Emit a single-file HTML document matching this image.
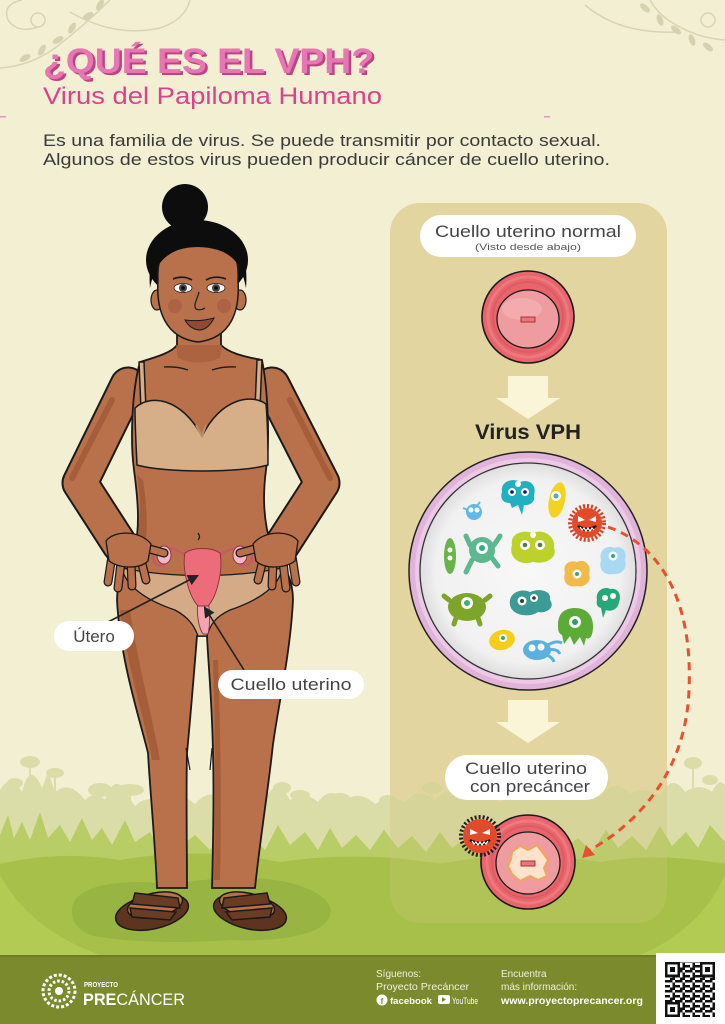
<!DOCTYPE html>
<html><head><meta charset="utf-8">
<style>html,body{margin:0;padding:0;background:#f3efd3;}svg{display:block;}</style>
</head><body>
<svg width="725" height="1024" viewBox="0 0 725 1024" xmlns="http://www.w3.org/2000/svg" font-family="'Liberation Sans', sans-serif">
<defs>
 <marker id="ah" viewBox="0 0 10 10" refX="8" refY="5" markerWidth="7" markerHeight="7" orient="auto"><path d="M0,0 L10,5 L0,10 Z" fill="#222"/></marker>
 <pattern id="qr" width="10" height="10" patternUnits="userSpaceOnUse">
  <rect x="0" y="0" width="2.5" height="2.5" fill="#111"/><rect x="5" y="0" width="5" height="2.5" fill="#111"/>
  <rect x="2.5" y="2.5" width="2.5" height="5" fill="#111"/><rect x="7.5" y="5" width="2.5" height="2.5" fill="#111"/>
  <rect x="0" y="7.5" width="5" height="2.5" fill="#111"/><rect x="5" y="5" width="2.5" height="2.5" fill="#111"/>
 </pattern>
 <radialGradient id="dish" cx="50%" cy="50%" r="50%"><stop offset="0" stop-color="#f8f8f8"/><stop offset="0.85" stop-color="#f1f1f1"/><stop offset="1" stop-color="#dedede"/></radialGradient>
</defs>
<rect width="725" height="1024" fill="#f3efd3"/>

<!-- vines -->
<g fill="none" stroke="#d8d4b4" stroke-width="1.5">
 <path d="M0,68 Q30,66 55,48 Q85,25 110,0"/>
 <circle cx="38" cy="20" r="7"/>
 <path d="M38,27 Q18,34 8,20 Q2,4 22,0"/>
 <path d="M70,12 Q115,38 160,28 Q185,20 190,0"/>
 <path d="M725,40 Q695,38 668,20 Q655,10 650,0"/>
 <circle cx="708" cy="20" r="7"/>
 <path d="M585,5 Q620,35 680,32"/>
</g>
<g fill="#d5d2b0">
 <ellipse cx="25" cy="58" rx="6" ry="3" transform="rotate(-30 25 58)"/>
 <ellipse cx="42" cy="50" rx="6" ry="3" transform="rotate(-60 42 50)"/>
 <ellipse cx="58" cy="40" rx="6" ry="3" transform="rotate(-30 58 40)"/>
 <ellipse cx="72" cy="28" rx="6" ry="3" transform="rotate(-60 72 28)"/>
 <ellipse cx="88" cy="16" rx="6" ry="3" transform="rotate(-30 88 16)"/>
 <ellipse cx="100" cy="5" rx="6" ry="3" transform="rotate(-60 100 5)"/>
 <ellipse cx="645" cy="8" rx="6" ry="3" transform="rotate(40 645 8)"/>
 <ellipse cx="660" cy="20" rx="6" ry="3" transform="rotate(70 660 20)"/>
 <ellipse cx="676" cy="30" rx="6" ry="3" transform="rotate(40 676 30)"/>
 <ellipse cx="692" cy="40" rx="6" ry="3" transform="rotate(70 692 40)"/>
 <ellipse cx="708" cy="47" rx="6" ry="3" transform="rotate(40 708 47)"/>
</g>
<rect x="0" y="116" width="6" height="1.5" fill="#e39ac0"/>
<rect x="544" y="116" width="6" height="1.5" fill="#e39ac0"/>

<!-- title -->
<text x="45.5" y="75" font-size="35" font-weight="bold" fill="#bf4383" textLength="331" lengthAdjust="spacingAndGlyphs">¿QUÉ ES EL VPH?</text>
<text x="43" y="73" font-size="35" font-weight="bold" fill="#e777b2" textLength="331" lengthAdjust="spacingAndGlyphs">¿QUÉ ES EL VPH?</text>
<text x="43" y="104" font-size="24" fill="#d9428f" textLength="339" lengthAdjust="spacingAndGlyphs">Virus del Papiloma Humano</text>
<text x="43" y="146" font-size="17" fill="#3a3a3a" textLength="558" lengthAdjust="spacingAndGlyphs">Es una familia de virus. Se puede transmitir por contacto sexual.</text>
<text x="43" y="165" font-size="17" fill="#3a3a3a" textLength="567" lengthAdjust="spacingAndGlyphs">Algunos de estos virus pueden producir cáncer de cuello uterino.</text>

<!-- right panel -->
<rect x="390" y="203" width="277" height="720" rx="30" fill="#e6d9a6"/>

<!-- foliage background -->
<g>
 <g fill="#d3d89a" opacity="0.75">
  <path d="M0,955 L0,790 Q10,772 22,792 Q30,760 42,788 L48,772 L55,792 Q70,780 85,800 Q95,790 105,800 Q115,770 128,796 L135,806 Q150,792 165,806 Q180,790 195,804 Q210,786 225,802 Q245,792 262,806 Q275,772 290,800 Q305,790 318,802 Q330,785 345,800 Q360,790 375,804 Q390,794 405,802 Q420,786 435,800 Q450,783 470,796 Q485,790 500,803 Q515,786 530,800 Q545,790 560,800 Q580,786 600,796 Q615,776 630,794 Q645,786 660,796 Q672,772 685,792 Q700,782 712,792 Q720,776 725,786 L725,955 Z"/>
  <ellipse cx="30" cy="762" rx="10" ry="6"/><rect x="29" y="762" width="2" height="30"/>
  <ellipse cx="55" cy="773" rx="9" ry="5"/><rect x="54" y="773" width="2" height="25"/>
  <ellipse cx="15" cy="783" rx="8" ry="5"/>
  <ellipse cx="100" cy="790" rx="12" ry="7"/>
  <ellipse cx="130" cy="790" rx="14" ry="6"/><rect x="129" y="790" width="2" height="14"/>
  <ellipse cx="282" cy="788" rx="9" ry="6"/><rect x="281" y="788" width="2" height="20"/>
  <ellipse cx="300" cy="795" rx="10" ry="5"/>
  <ellipse cx="340" cy="798" rx="10" ry="5"/>
  <ellipse cx="388" cy="800" rx="9" ry="5"/>
  <ellipse cx="432" cy="788" rx="10" ry="6"/><rect x="431" y="788" width="2" height="20"/>
  <ellipse cx="470" cy="795" rx="9" ry="5"/>
  <ellipse cx="540" cy="798" rx="10" ry="5"/>
  <ellipse cx="600" cy="783" rx="10" ry="5"/>
  <ellipse cx="693" cy="763" rx="9" ry="6"/><rect x="692" y="763" width="2" height="30"/>
  <ellipse cx="710" cy="780" rx="8" ry="5"/>
 </g>
 <path fill="#b5cb5f" opacity="0.92" d="M0,955 L0,835 L8,815 L14,838 L22,822 L30,840 L40,812 L48,838 L60,825 L70,842 L82,818 L92,840 L102,828 L112,845 L125,820 L135,842 L150,832 L160,848 L172,825 L182,845 L195,835 L210,850 L225,830 L238,848 L252,835 L265,850 L278,825 L290,845 L305,832 L318,850 L330,828 L342,848 L356,835 L370,850 L384,830 L398,848 L412,836 L426,852 L440,832 L452,848 L466,838 L480,852 L494,834 L508,848 L522,838 L536,852 L550,832 L564,848 L578,838 L592,852 L606,830 L618,848 L632,836 L646,850 L660,826 L672,846 L686,832 L698,848 L710,825 L725,842 L725,955 Z"/>
 <rect x="0" y="862" width="725" height="93" fill="#b1cb53"/>
 <path fill="#a7c04a" d="M0,864 Q60,850 120,860 Q200,846 280,862 Q360,850 440,864 Q520,848 600,862 Q660,852 725,864 L725,875 Q700,930 640,955 L100,955 Q30,930 0,875 Z"/>
</g>
<!-- panel tint over foliage -->
<rect x="390" y="203" width="277" height="720" rx="30" fill="#d8c88a" opacity="0.22"/>

<!-- ground shadow -->
<path d="M72,912 C70,885 120,878 170,884 C200,880 240,875 275,880 C310,885 335,900 330,915 C325,935 280,942 230,940 C180,944 120,942 90,935 C78,930 72,922 72,912 Z" fill="#98b443"/>

<!-- ===== WOMAN ===== -->
<circle cx="185" cy="207" r="23" fill="#0d0d0d"/>
<ellipse cx="197" cy="260" rx="51" ry="40" fill="#0d0d0d"/>
<g fill="none" stroke-linejoin="round" stroke-linecap="round">
 <path d="M128,385 L80,483 L120,545" stroke="#1a1a1a" stroke-width="37"/>
 <path d="M128,385 L80,483 L120,545" stroke="#b8714a" stroke-width="33"/>
 <path d="M272,385 L322,483 L282,545" stroke="#1a1a1a" stroke-width="37"/>
 <path d="M272,385 L322,483 L282,545" stroke="#b8714a" stroke-width="33"/>
 <path d="M112,400 L72,478" stroke="#a65e3a" stroke-width="6"/>
 <path d="M290,400 L330,478" stroke="#a65e3a" stroke-width="6"/>
</g>
<path fill="#b8714a" stroke="#1a1a1a" stroke-width="1.8" d="M140,362 C160,356 172,352 177,345 L177,322 L221,322 L221,345 C228,352 240,356 262,360 C268,390 270,440 266,470 C262,500 264,525 272,548 C285,565 293,580 293,600 C290,660 275,720 272,753 C268,790 260,840 255,888 L212,888 C213,850 214,790 213,753 C212,700 208,660 207,636 L197,636 C195,660 192,700 187,753 C186,790 187,850 187,888 L157,888 C155,840 150,790 148,753 C140,720 120,660 117,600 C117,580 125,565 135,548 C140,525 138,500 134,470 C130,440 132,390 140,362 Z"/>
<g fill="#a65e3a">
 <path d="M137,475 C142,500 140,525 136,545 L146,540 C148,520 146,500 143,480 Z"/>
 <path d="M120,610 C128,670 145,720 152,760 L160,760 C152,715 138,665 130,610 Z"/>
 <path d="M213,660 C215,720 216,790 214,880 L220,880 C222,800 220,720 218,660 Z"/>
 <path d="M176,345 L222,345 L220,358 C205,364 192,364 178,358 Z" opacity="0.7"/>
</g>
<g stroke="#1a1a1a" stroke-width="1.2" fill="none">
 <path d="M186,748 L190,770"/><path d="M212,748 L210,770"/>
 <path d="M198,533 q3,4 0,7"/>
</g>
<g stroke="#1a1a1a" stroke-width="1.5" stroke-linejoin="round">
 <path d="M139,362 L144,362 L146,410 L141,410 Z" fill="#d6ae88"/>
 <path d="M257,360 L262,360 L260,408 L255,408 Z" fill="#d6ae88"/>
 <path d="M135,408 C150,394 180,397 202,436 C222,397 252,394 266,404 C268,425 268,445 268,465 C240,473 165,473 137,465 C136,445 135,425 135,408 Z" fill="#d6ae88"/>
</g>
<path d="M196,425 L202,436 L206,425" stroke="#b98e6a" stroke-width="2" fill="none"/>
<g stroke="#1a1a1a" stroke-width="1.3" fill="none">
 <path d="M164,367 Q176,366 188,370"/><path d="M212,370 Q224,366 236,367"/>
</g>
<path fill="#d4ab86" stroke="#1a1a1a" stroke-width="1.3" d="M122,568 C170,578 235,578 282,568 C280,585 260,600 230,610 C215,617 210,625 207,636 L198,636 C194,625 188,617 175,610 C145,600 125,585 122,568 Z"/>
<g stroke="#8a2f3c" stroke-width="0.9">
 <path d="M186,556 C176,548 165,545 155,552 C150,560 155,567 165,565" fill="none" stroke="#c9566a" stroke-width="2"/>
 <path d="M219,556 C229,548 240,545 250,552 C255,560 250,567 240,565" fill="none" stroke="#c9566a" stroke-width="2"/>
 <ellipse cx="164" cy="555" rx="7" ry="9" fill="#f3b7c5"/>
 <ellipse cx="240" cy="555" rx="7" ry="9" fill="#f3b7c5"/>
 <path d="M198,600 C196,615 199,628 203,634 L208,634 C210,625 210,612 208,600 Z" fill="#f2a4b2"/>
 <path d="M185,553 C182,568 188,595 198,606 L208,606 C218,595 223,568 220,553 C212,547 193,547 185,553 Z" fill="#ec6c7a"/>
</g>
<g stroke-linecap="round" fill="none">
 <g stroke="#1a1a1a" stroke-width="9">
  <path d="M112,556 L108,582"/><path d="M121,562 L118,588"/><path d="M131,563 L132,586"/><path d="M141,560 L146,580"/><path d="M146,548 L164,553"/>
  <path d="M292,556 L296,582"/><path d="M283,562 L286,588"/><path d="M273,563 L272,586"/><path d="M263,560 L258,580"/><path d="M258,548 L240,553"/>
 </g>
 <g stroke="#b8714a" stroke-width="6.5">
  <path d="M112,556 L108,582"/><path d="M121,562 L118,588"/><path d="M131,563 L132,586"/><path d="M141,560 L146,580"/><path d="M146,548 L164,553"/>
  <path d="M292,556 L296,582"/><path d="M283,562 L286,588"/><path d="M273,563 L272,586"/><path d="M263,560 L258,580"/><path d="M258,548 L240,553"/>
 </g>
</g>
<path d="M106,541 C114,530 140,530 151,544 L148,561 C140,569 120,569 109,561 Z" fill="#b8714a" stroke="#1a1a1a" stroke-width="1.3"/>
<path d="M298,541 C290,530 264,530 253,544 L256,561 C264,569 284,569 295,561 Z" fill="#b8714a" stroke="#1a1a1a" stroke-width="1.3"/>
<line x1="108" y1="622" x2="197" y2="576" stroke="#222" stroke-width="1.6" marker-end="url(#ah)"/>
<line x1="244" y1="670" x2="205" y2="608" stroke="#222" stroke-width="1.6" marker-end="url(#ah)"/>
<rect x="54" y="621" width="80" height="30" rx="15" fill="#fff"/>
<text x="94" y="642" font-size="17" fill="#444" text-anchor="middle">Útero</text>
<rect x="218" y="670" width="146" height="29" rx="14.5" fill="#fff"/>
<text x="291" y="690" font-size="17" fill="#444" text-anchor="middle" textLength="121" lengthAdjust="spacingAndGlyphs">Cuello uterino</text>
<ellipse cx="157" cy="300" rx="6" ry="10" fill="#b8714a" stroke="#1a1a1a" stroke-width="1.2"/>
<ellipse cx="240" cy="300" rx="6" ry="10" fill="#b8714a" stroke="#1a1a1a" stroke-width="1.2"/>
<path d="M158,280 C156,245 175,238 198,238 C222,238 240,245 238,280 C240,310 232,338 198,342 C165,338 156,310 158,280 Z" fill="#b8714a" stroke="#1a1a1a" stroke-width="1.5"/>
<path d="M150,288 C146,242 170,222 198,222 C226,222 250,242 246,288 C242,268 236,256 218,250 C205,246 190,246 178,250 C162,256 154,268 150,288 Z" fill="#0d0d0d"/>
<circle cx="175" cy="306" r="7" fill="#a0503f" opacity="0.45"/>
<circle cx="224" cy="306" r="7" fill="#a0503f" opacity="0.45"/>
<g stroke="#1a1a1a" stroke-width="1.6" fill="none">
 <path d="M173,279 Q183,275 192,280"/><path d="M206,280 Q215,275 226,279"/>
</g>
<ellipse cx="183" cy="288" rx="9" ry="4.5" fill="#f4f4f4" stroke="#222" stroke-width="0.8"/>
<ellipse cx="216" cy="288" rx="9" ry="4.5" fill="#f4f4f4" stroke="#222" stroke-width="0.8"/>
<circle cx="183" cy="288" r="4" fill="#4a4a4a"/><circle cx="216" cy="288" r="4" fill="#4a4a4a"/>
<circle cx="183" cy="288" r="2" fill="#111"/><circle cx="216" cy="288" r="2" fill="#111"/>
<path d="M199,292 C197,300 193,305 196,309 Q200,311 205,308" stroke="#1a1a1a" stroke-width="1.2" fill="none"/>
<path d="M185,320 Q200,322 214,318 Q208,330 199,330 Q190,329 185,320 Z" fill="#8f4a36" stroke="#1a1a1a" stroke-width="1"/>
<g stroke="#1a1a1a" stroke-width="1.5">
 <ellipse cx="152" cy="912" rx="37" ry="17" transform="rotate(-12 152 912)" fill="#5e3420"/>
 <ellipse cx="155" cy="905" rx="28" ry="12" transform="rotate(-12 155 905)" fill="#b8714a"/>
 <path d="M135,893 L178,898 L180,908 L132,904 Z" fill="#6b3c24"/>
 <path d="M130,908 L176,912 L170,920 L132,917 Z" fill="#6b3c24"/>
 <ellipse cx="250" cy="912" rx="37" ry="17" transform="rotate(12 250 912)" fill="#5e3420"/>
 <ellipse cx="247" cy="905" rx="28" ry="12" transform="rotate(12 247 905)" fill="#b8714a"/>
 <path d="M267,893 L224,898 L222,908 L270,904 Z" fill="#6b3c24"/>
 <path d="M272,908 L226,912 L232,920 L270,917 Z" fill="#6b3c24"/>
</g>

<!-- ===== PANEL CONTENT ===== -->
<rect x="420" y="215" width="216" height="42" rx="21" fill="#fff"/>
<text x="528" y="237" font-size="17" fill="#444" text-anchor="middle" textLength="186" lengthAdjust="spacingAndGlyphs">Cuello uterino normal</text>
<text x="528" y="250" font-size="9.5" fill="#555" text-anchor="middle" textLength="106" lengthAdjust="spacingAndGlyphs">(Visto desde abajo)</text>

<circle cx="528" cy="317" r="46" fill="#e8656c" stroke="#1a1a1a" stroke-width="1.6"/>
<circle cx="528" cy="317" r="40" fill="none" stroke="#ef8086" stroke-width="3" opacity="0.7"/>
<circle cx="528" cy="317" r="35" fill="none" stroke="#d9555d" stroke-width="2" opacity="0.6"/>
<ellipse cx="528" cy="319" rx="31" ry="29" fill="#ef9ca0" stroke="#1a1a1a" stroke-width="1.3"/>
<ellipse cx="522" cy="309" rx="20" ry="11" fill="#f5b6b8" opacity="0.6"/>
<rect x="521" y="317" width="14" height="5" fill="#e9767d" stroke="#a8323c" stroke-width="1"/>

<polygon points="508,376 548,376 548,398 560,398 528,419 496,398 508,398" fill="#fbf5d8"/>
<text x="528" y="439" font-size="21" font-weight="bold" fill="#222" text-anchor="middle" textLength="106" lengthAdjust="spacingAndGlyphs">Virus VPH</text>

<circle cx="528" cy="571" r="119" fill="#e0b3d9" stroke="#222" stroke-width="1.5"/>
<circle cx="528" cy="571" r="113" fill="#ecc9e6"/>
<circle cx="528" cy="571" r="108" fill="url(#dish)" stroke="#333" stroke-width="1.3"/>

<g>
 <path d="M502,492 C500,480 515,478 520,482 C530,478 537,486 534,495 C536,503 528,506 524,505 L522,515 L518,505 L512,508 L510,503 C502,503 500,498 502,492 Z" fill="#1fb1bf"/>
 <circle cx="512" cy="492" r="4" fill="#fff"/><circle cx="525" cy="492" r="4" fill="#fff"/><circle cx="518" cy="484" r="3" fill="#fff"/>
 <circle cx="512" cy="492" r="1.8" fill="#117"/><circle cx="525" cy="492" r="1.8" fill="#117"/>
 <ellipse cx="557" cy="500" rx="8" ry="18" transform="rotate(12 557 500)" fill="#f5d21e"/>
 <circle cx="556" cy="496" r="5" fill="#fff"/><circle cx="556" cy="496" r="2.5" fill="#5aa"/>
 <circle cx="474" cy="512" r="8" fill="#5fb8e8"/><path d="M463,508 L468,510 M480,502 L477,506" stroke="#5fb8e8" stroke-width="2"/>
 <circle cx="471" cy="510" r="2.5" fill="#fff"/><circle cx="477" cy="510" r="2.5" fill="#fff"/>
 <ellipse cx="450" cy="556" rx="6" ry="18" fill="#68b34a"/>
 <circle cx="450" cy="550" r="2.5" fill="#fff"/><circle cx="450" cy="558" r="2.5" fill="#fff"/>
 <path d="M470,545 L466,536 M494,545 L500,536 M472,560 L466,572 M492,558 L498,566" stroke="#5bb88f" stroke-width="5" stroke-linecap="round"/>
 <circle cx="482" cy="550" r="13" fill="#5bb88f"/>
 <circle cx="482" cy="548" r="6" fill="#fff"/><circle cx="482" cy="548" r="3" fill="#3a8"/>
 <path d="M512,545 C510,532 525,530 533,533 C545,528 556,538 554,548 C558,558 545,565 533,562 C520,566 508,558 512,545 Z" fill="#bcd22b"/>
 <circle cx="525" cy="545" r="5" fill="#fff"/><circle cx="540" cy="545" r="5" fill="#fff"/><circle cx="533" cy="535" r="3" fill="#fff"/>
 <circle cx="525" cy="545" r="2.3" fill="#575"/><circle cx="540" cy="545" r="2.3" fill="#575"/>
 <path d="M601,560 C598,548 610,545 614,548 C622,545 628,552 625,560 C628,570 620,575 613,574 C605,576 598,570 601,560 Z" fill="#a9d8f2"/>
 <circle cx="613" cy="556" r="4.5" fill="#fff"/><circle cx="613" cy="556" r="2" fill="#3a7"/>
 <path d="M565,573 C562,562 572,560 577,562 C585,558 592,566 589,574 C592,582 584,588 577,586 C568,588 562,582 565,573 Z" fill="#f2bb48"/>
 <circle cx="577" cy="574" r="4.5" fill="#fff"/><circle cx="577" cy="574" r="2" fill="#3a7"/>
 <path d="M597,600 C595,590 605,586 610,589 C618,587 622,595 619,602 C618,610 610,612 606,610 L603,618 L601,608 C597,607 596,604 597,600 Z" fill="#25a97a"/>
 <circle cx="605" cy="598" r="3" fill="#fff"/><circle cx="613" cy="596" r="3" fill="#fff"/>
 <path d="M449,600 L444,596 M485,600 L490,596 M456,618 L454,624 M478,618 L480,624" stroke="#7ca52a" stroke-width="5" stroke-linecap="round"/>
 <ellipse cx="467" cy="607" rx="19" ry="14" fill="#7ca52a"/>
 <circle cx="467" cy="603" r="6" fill="#fff"/><circle cx="467" cy="603" r="3" fill="#4a7"/>
 <path d="M510,605 C508,592 522,588 530,592 C538,588 552,590 550,600 C556,608 545,614 538,612 C530,618 512,616 510,605 Z" fill="#3c9b97"/>
 <circle cx="522" cy="601" r="4.5" fill="#fff"/><circle cx="534" cy="598" r="4" fill="#fff"/>
 <circle cx="522" cy="601" r="2" fill="#244"/><circle cx="534" cy="598" r="1.8" fill="#244"/>
 <path d="M558,625 C558,612 566,608 575,608 C585,608 593,614 593,626 C593,636 590,640 586,638 L584,646 L580,637 L574,645 L570,636 L564,644 L562,635 C558,633 558,630 558,625 Z" fill="#5aac36"/>
 <circle cx="575" cy="622" r="6" fill="#fff"/><circle cx="575" cy="622" r="3" fill="#396"/>
 <ellipse cx="502" cy="640" rx="13" ry="10" transform="rotate(-15 502 640)" fill="#f6cd18"/>
 <circle cx="503" cy="638" r="4" fill="#fff"/><circle cx="503" cy="638" r="2" fill="#3a7"/>
 <path d="M548,645 Q556,640 562,643 M548,650 Q557,648 560,654 M547,655 Q553,658 554,662" stroke="#5ab1dd" stroke-width="3" fill="none"/>
 <ellipse cx="537" cy="650" rx="14" ry="10" fill="#5ab1dd"/>
 <circle cx="532" cy="648" r="3.5" fill="#fff"/><circle cx="541" cy="647" r="3.5" fill="#fff"/>
 <circle cx="587" cy="523" r="17" fill="none" stroke="#d8401f" stroke-width="4" stroke-dasharray="2 2"/>
 <circle cx="587" cy="523" r="15" fill="#e34a2a"/>
 <path d="M578,516 L585,520 L578,522 Z M596,516 L589,520 L596,522 Z" fill="#fff"/>
 <path d="M578,526 Q587,534 596,526 Q587,531 578,526 Z" fill="#111" stroke="#111" stroke-width="2"/>
 <path d="M580,527 L582,530 L584,528 L586,531 L588,528 L590,531 L592,528 L594,530" stroke="#fff" stroke-width="1.2" fill="none"/>
</g>

<polygon points="508,700 548,700 548,722 560,722 528,743 496,722 508,722" fill="#fbf5d8"/>
<rect x="445" y="755" width="163" height="45" rx="22.5" fill="#fff"/>
<text x="526" y="774" font-size="17" fill="#444" text-anchor="middle" textLength="122" lengthAdjust="spacingAndGlyphs">Cuello uterino</text>
<text x="530" y="792" font-size="17" fill="#444" text-anchor="middle" textLength="120" lengthAdjust="spacingAndGlyphs">con precáncer</text>

<circle cx="528" cy="862" r="47" fill="#e8656c" stroke="#1a1a1a" stroke-width="1.6"/>
<circle cx="528" cy="862" r="41" fill="none" stroke="#ef8086" stroke-width="3" opacity="0.7"/>
<circle cx="528" cy="862" r="36" fill="none" stroke="#d9555d" stroke-width="2" opacity="0.6"/>
<ellipse cx="528" cy="863" rx="32" ry="31" fill="#ef9ca0" stroke="#1a1a1a" stroke-width="1.3"/>
<path d="M512,852 L520,846 L528,850 L537,845 L543,853 L548,860 L544,868 L547,876 L538,880 L530,876 L520,881 L512,874 L508,866 L511,859 Z" fill="#fde3cc" stroke="#f0a45c" stroke-width="2"/>
<rect x="521" y="861" width="14" height="5" fill="#e9767d" stroke="#a8323c" stroke-width="1"/>
<circle cx="480" cy="836" r="19" fill="none" stroke="#222" stroke-width="4" stroke-dasharray="2 2"/>
<circle cx="480" cy="836" r="17" fill="#e34a2a"/>
<path d="M470,829 L478,833 L470,835 Z M490,829 L482,833 L490,835 Z" fill="#fff"/>
<path d="M470,840 Q480,849 490,840 Q480,845 470,840 Z" fill="#111" stroke="#111" stroke-width="2"/>
<path d="M472,841 L474,844 L476,842 L478,845 L480,842 L482,845 L484,842 L486,844 L488,841" stroke="#fff" stroke-width="1.2" fill="none"/>

<path d="M608,527 C660,545 693,600 689,690 C686,770 640,822 590,850" fill="none" stroke="#e8502f" stroke-width="3" stroke-dasharray="8 6"/>
<polygon points="582,858 595,855 586,845" fill="#e8502f"/>

<!-- ===== FOOTER ===== -->
<rect x="0" y="955" width="725" height="69" fill="#7b8a2c"/>
<rect x="0" y="955" width="725" height="2" fill="#6e7d25"/>
<g fill="none" stroke="#fff">
 <circle cx="59" cy="991" r="16" stroke-width="3" stroke-dasharray="3 2"/>
 <circle cx="59" cy="991" r="10" stroke-width="3" stroke-dasharray="2.5 2"/>
</g>
<circle cx="59" cy="991" r="4" fill="#fff"/>
<text x="84" y="987" font-size="7.5" font-weight="bold" fill="#fff" textLength="34" lengthAdjust="spacingAndGlyphs">PROYECTO</text>
<text x="83" y="1005" font-size="17" fill="#fff" textLength="102" lengthAdjust="spacingAndGlyphs"><tspan font-weight="bold">PRE</tspan>CÁNCER</text>
<text x="376" y="977" font-size="10" fill="#f0f0dc">Síguenos:</text>
<text x="376" y="990" font-size="10" fill="#f0f0dc" textLength="93" lengthAdjust="spacingAndGlyphs">Proyecto Precáncer</text>
<circle cx="382" cy="1000" r="5.5" fill="#fff"/>
<text x="382" y="1004" font-size="8" font-weight="bold" fill="#7b8a2c" text-anchor="middle">f</text>
<text x="390" y="1004" font-size="9.5" font-weight="bold" fill="#fff" textLength="42" lengthAdjust="spacingAndGlyphs">facebook</text>
<rect x="438" y="995" width="12" height="9" rx="2" fill="#fff"/>
<polygon points="442,997 442,1002 446,999.5" fill="#7b8a2c"/>
<text x="452" y="1004" font-size="9" fill="#fff" textLength="26" lengthAdjust="spacingAndGlyphs">YouTube</text>
<text x="501" y="977" font-size="10" fill="#f0f0dc">Encuentra</text>
<text x="501" y="990" font-size="10" fill="#f0f0dc">más información:</text>
<text x="501" y="1004" font-size="10" font-weight="bold" fill="#fff" textLength="142" lengthAdjust="spacingAndGlyphs">www.proyectoprecancer.org</text>
<rect x="656" y="953" width="69" height="71" fill="#fff"/>
<rect x="665" y="962" width="50" height="55" fill="url(#qr)"/>
<g>
 <rect x="665" y="962" width="15" height="15" fill="#111"/><rect x="667.5" y="964.5" width="10" height="10" fill="#fff"/><rect x="670" y="967" width="5" height="5" fill="#111"/>
 <rect x="700" y="962" width="15" height="15" fill="#111"/><rect x="702.5" y="964.5" width="10" height="10" fill="#fff"/><rect x="705" y="967" width="5" height="5" fill="#111"/>
 <rect x="665" y="1002" width="15" height="15" fill="#111"/><rect x="667.5" y="1004.5" width="10" height="10" fill="#fff"/><rect x="670" y="1007" width="5" height="5" fill="#111"/>
</g>
</svg>
</body></html>
